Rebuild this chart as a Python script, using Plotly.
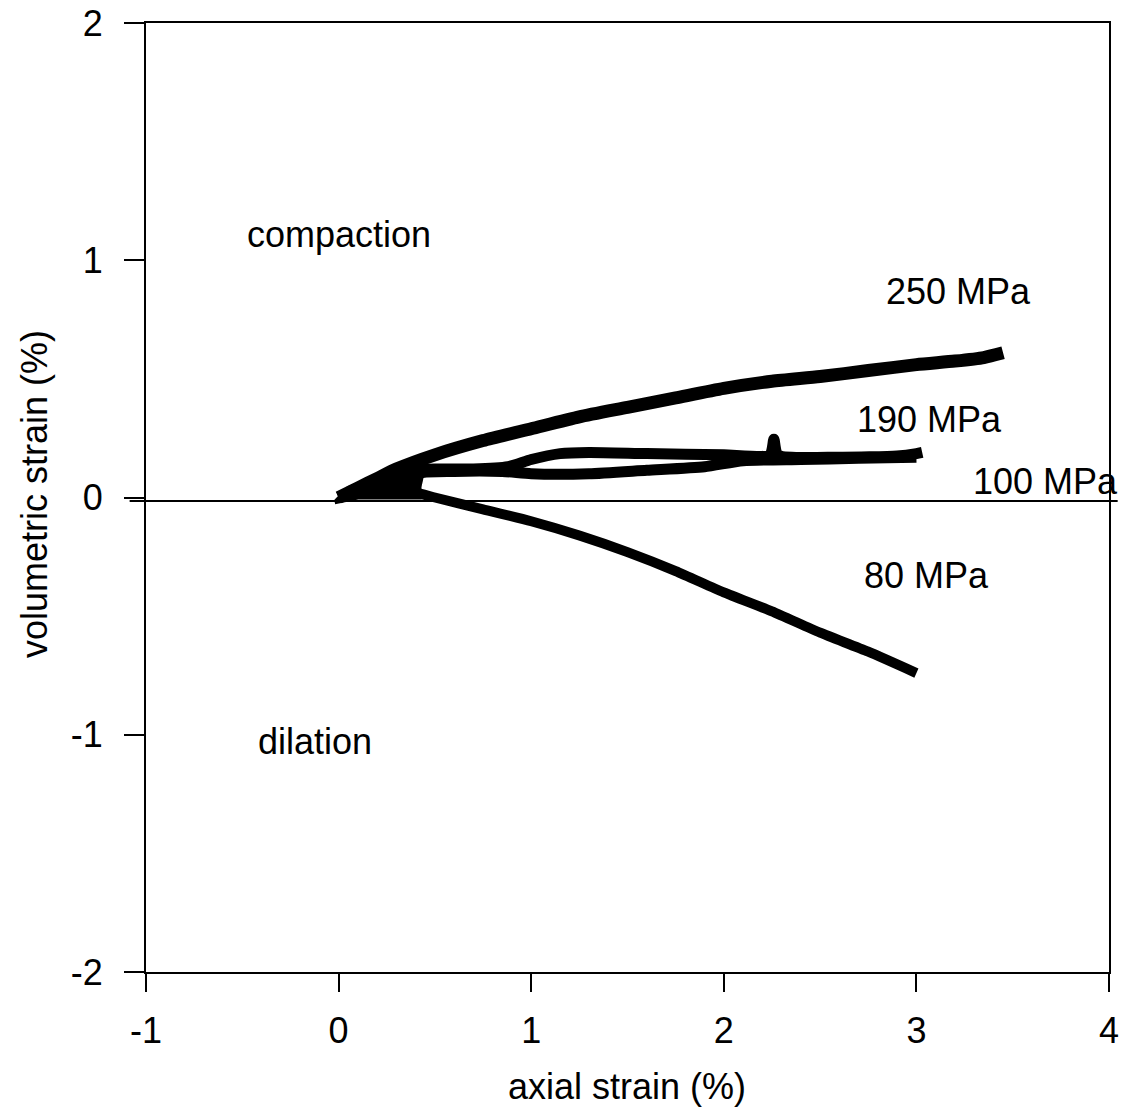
import plotly.graph_objects as go

# 250 MPa
x250 = [0, 0.05, 0.1, 0.2, 0.3, 0.5, 0.75, 1.0, 1.25, 1.5, 1.75, 2.0, 2.25, 2.5, 2.75, 3.0, 3.2, 3.35, 3.45]
y250 = [0, 0.02, 0.04, 0.08, 0.12, 0.18, 0.24, 0.29, 0.34, 0.38, 0.42, 0.46, 0.49, 0.51, 0.535, 0.56, 0.575, 0.59, 0.61]
# 190 MPa
x190 = [0, 0.1, 0.2, 0.3, 0.4, 0.5, 0.7, 0.88, 1.0, 1.15, 1.3, 1.6, 2.0, 2.24, 2.26, 2.28, 2.6, 2.9, 3.0, 3.03]
y190 = [0, 0.03, 0.06, 0.09, 0.115, 0.12, 0.12, 0.13, 0.16, 0.185, 0.19, 0.185, 0.18, 0.18, 0.245, 0.18, 0.17, 0.175, 0.185, 0.19]
# 100 MPa
x100 = [0, 0.1, 0.2, 0.3, 0.4, 0.42, 0.6, 0.85, 1.0, 1.3, 1.6, 1.9, 2.1, 2.4, 2.7, 3.0]
y100 = [0, 0.03, 0.04, 0.05, 0.05, 0.1, 0.11, 0.11, 0.1, 0.1, 0.115, 0.13, 0.155, 0.16, 0.165, 0.17]
# 80 MPa
x80 = [0, 0.1, 0.2, 0.3, 0.4, 0.5, 0.75, 1.0, 1.25, 1.5, 1.75, 2.0, 2.25, 2.5, 2.75, 3.0]
y80 = [0, 0.02, 0.02, 0.02, 0.02, 0.0, -0.05, -0.1, -0.16, -0.23, -0.31, -0.4, -0.48, -0.57, -0.65, -0.74]
# overlapping initial-loading records near the origin
x_init = [-0.02, 0.05, 0.2, 0.35, 0.42, 0.42, 0.3, 0.1, -0.02]
y_init = [-0.02, 0.04, 0.08, 0.1, 0.1, 0.0, 0.0, 0.0, -0.02]

x_ticks = [-1, 0, 1, 2, 3, 4]
x_ticktext = ["-1", "0", "1", "2", "3", "4"]
y_ticks = [-2, -1, 0, 1, 2]
y_ticktext = ["-2", "-1", "0", "1", "2"]

labels = ["250 MPa", "190 MPa", "100 MPa", "80 MPa", "compaction", "dilation"]
label_x = [3.22, 3.07, 3.67, 3.05, 0.0, -0.12]
label_y = [0.87, 0.33, 0.067, -0.33, 1.11, -1.03]

FONT = "Liberation Sans, Arial, sans-serif"

fig = go.Figure()
fig.add_trace(go.Scatter(x=x_init, y=y_init, mode="lines", fill="toself", fillcolor="black",
                         line=dict(color="black", width=4), showlegend=False, hoverinfo="skip"))
for xs, ys, w in [(x250, y250, 13), (x190, y190, 11), (x100, y100, 11), (x80, y80, 10)]:
    fig.add_trace(go.Scatter(x=xs, y=ys, mode="lines",
                             line=dict(color="black", width=w, shape="spline", smoothing=0.6),
                             showlegend=False, hoverinfo="skip"))

for t, lx, ly in zip(labels, label_x, label_y):
    fig.add_annotation(x=lx, y=ly, text=t, showarrow=False,
                       font=dict(family=FONT, size=36, color="black"))

# zero line
fig.add_shape(type="line", xref="paper", yref="y", x0=-0.017, x1=1.009, y0=-0.015, y1=-0.015,
              line=dict(color="black", width=2))

# axis titles
fig.add_annotation(xref="paper", yref="paper", x=0.499, y=-0.121, yanchor="middle",
                   text="axial strain (%)", showarrow=False,
                   font=dict(family=FONT, size=36, color="black"))
fig.add_annotation(xref="paper", yref="paper", x=-0.116, y=0.504, xanchor="center", yanchor="middle",
                   text="volumetric strain (%)", showarrow=False, textangle=-90,
                   font=dict(family=FONT, size=36, color="black"))

fig.update_layout(
    width=1125, height=1116,
    margin=dict(l=146, r=16, t=23, b=144),
    paper_bgcolor="white", plot_bgcolor="white",
    font=dict(family=FONT, size=36, color="black"),
    xaxis=dict(range=[-1, 4], tickvals=x_ticks, ticktext=x_ticktext, ticks="outside", ticklen=18,
               tickwidth=2, tickcolor="black", showline=True, linecolor="black", linewidth=2,
               mirror=True, showgrid=False, zeroline=False, ticklabelstandoff=8, automargin=False),
    yaxis=dict(range=[-2, 2], tickvals=y_ticks, ticktext=y_ticktext, ticks="outside", ticklen=20,
               tickwidth=2, tickcolor="black", showline=True, linecolor="black", linewidth=2,
               mirror=True, showgrid=False, zeroline=False, ticklabelstandoff=14, automargin=False),
)

fig.write_html("out.html")
